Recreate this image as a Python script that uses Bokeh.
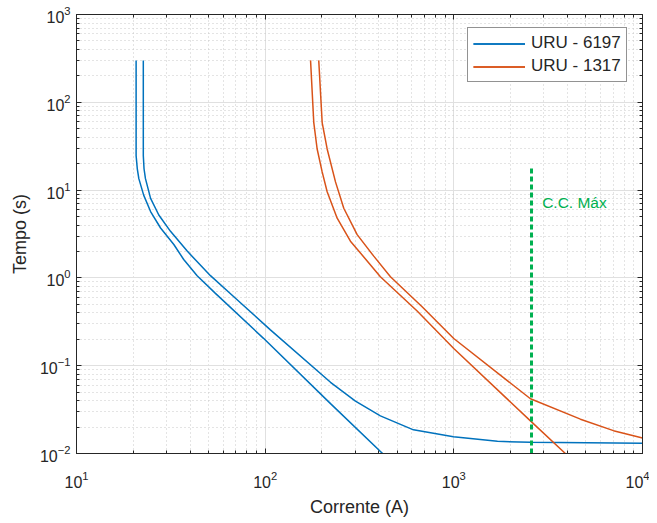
from bokeh.plotting import figure
from bokeh.models import LogAxis, Legend, LegendItem, Label, FixedTicker, CustomJSTickFormatter
from bokeh.embed import file_html
from bokeh.resources import INLINE

# ---- data ----
x_ticks = [10, 100, 1000, 10000]
y_ticks = [0.01, 0.1, 1, 10, 100, 1000]

uru6197_min_I = [20.7, 20.7, 21.0, 21.4, 22.7, 24.7, 27.9, 32.8, 37.0, 43.6, 54.5, 98.0, 222, 419]
uru6197_min_t = [300, 24.7, 17.5, 13.5, 8.77, 5.70, 3.70, 2.40, 1.62, 1.06, 0.667, 0.205, 0.037, 0.01]
uru6197_max_I = [22.6, 22.6, 22.8, 23.2, 24.7, 27.3, 31.5, 38.6, 51.3, 69.6, 106.6, 222, 301, 408, 611, 995, 1703, 2547, 10000]
uru6197_max_t = [300, 24.7, 17.5, 13.5, 8.04, 5.21, 3.39, 2.02, 1.06, 0.586, 0.256, 0.0647, 0.0395, 0.0268, 0.0186, 0.0155, 0.01375, 0.0134, 0.0131]
uru1317_min_I = [174, 181, 188.6, 200.5, 213.1, 240.8, 283.1, 347.2, 408, 639, 999, 2547, 3900]
uru1317_min_t = [300, 58.8, 29.4, 16.1, 9.57, 4.79, 2.62, 1.56, 1.03, 0.419, 0.157, 0.0235, 0.01]
uru1317_max_I = [192.3, 200.5, 213.1, 235.9, 261, 307.3, 376.3, 461.3, 679, 999, 2547, 4688, 7015, 10000]
uru1317_max_t = [300, 58.8, 29.4, 12.4, 6.21, 3.11, 1.77, 1.03, 0.470, 0.204, 0.042, 0.0246, 0.0182, 0.0150]

cc_max_I = [2580, 2580]
cc_max_t = [0.01, 18.5]
cc_label = "C.C. Máx"
cc_label_pos = (2938, 7.25)

series_names = ["URU - 6197", "URU - 1317"]
BLUE = "#0072BD"
ORANGE = "#D95319"
GREEN = "#00B050"
DARK = "#262626"
FONT = "Liberation Sans"

def minor_of(ticks):
    out = []
    for t in ticks[:-1]:
        for m in range(2, 10):
            out.append(t * m)
    return out

xt = FixedTicker(ticks=x_ticks, minor_ticks=minor_of(x_ticks))
yt = FixedTicker(ticks=y_ticks, minor_ticks=minor_of(y_ticks))

p = figure(width=649, height=519, x_axis_type="log", y_axis_type="log",
           x_range=(10, 10000), y_range=(0.01, 1000),
           output_backend="svg", toolbar_location=None,
           min_border_left=76, min_border_right=7, min_border_top=14, min_border_bottom=61)
p.title.visible = False
p.outline_line_color = DARK
p.outline_line_width = 1

for ax, tk in ((p.xaxis[0], xt), (p.yaxis[0], yt)):
    ax.ticker = tk
    ax.major_tick_in = 5
    ax.major_tick_out = 0
    ax.minor_tick_in = 3
    ax.minor_tick_out = 0
    ax.axis_line_color = DARK
    ax.major_tick_line_color = DARK
    ax.minor_tick_line_color = DARK
    ax.major_label_text_color = DARK
    ax.major_label_text_font = FONT
    ax.major_label_text_font_size = "16px"
    ax.axis_label_text_font = FONT
    ax.axis_label_text_font_size = "18px"
    ax.axis_label_text_font_style = "normal"
    ax.axis_label_text_color = DARK

p.xaxis.axis_label = "Corrente (A)"
p.yaxis.axis_label = "Tempo (s)"
p.xaxis.major_label_standoff = 17
p.yaxis.major_label_standoff = 6
p.xaxis.axis_label_standoff = 6
p.yaxis.axis_label_standoff = 7

for loc, tk in (("above", xt), ("right", yt)):
    ax = LogAxis(ticker=tk, formatter=CustomJSTickFormatter(code="return ''"))
    ax.major_tick_in = 5
    ax.major_tick_out = 0
    ax.minor_tick_in = 3
    ax.minor_tick_out = 0
    ax.axis_line_color = DARK
    ax.major_tick_line_color = DARK
    ax.minor_tick_line_color = DARK
    ax.major_label_standoff = 0
    ax.major_label_text_font_size = "1px"
    p.add_layout(ax, loc)

for g in (p.xgrid[0], p.ygrid[0]):
    g.grid_line_color = "#e0e0e0"
    g.grid_line_width = 1
    g.minor_grid_line_color = "#c8c8c8"
    g.minor_grid_line_dash = "1 3"
    g.minor_grid_line_width = 1

r1 = p.line(uru6197_min_I, uru6197_min_t, line_color=BLUE, line_width=1.5)
r2 = p.line(uru6197_max_I, uru6197_max_t, line_color=BLUE, line_width=1.5)
r3 = p.line(uru1317_min_I, uru1317_min_t, line_color=ORANGE, line_width=1.5)
r4 = p.line(uru1317_max_I, uru1317_max_t, line_color=ORANGE, line_width=1.5)

p.line(cc_max_I, cc_max_t, line_color=GREEN, line_width=3, line_dash="5 3")
p.add_layout(Label(x=cc_label_pos[0], y=cc_label_pos[1], text=cc_label,
                   text_font=FONT, text_font_size="15.5px", text_color=GREEN,
                   text_baseline="middle", text_align="left"))

legend = Legend(items=[LegendItem(label=series_names[0], renderers=[r1, r2]),
                       LegendItem(label=series_names[1], renderers=[r3, r4])],
                location=(391, 371))
legend.label_text_font = FONT
legend.label_text_font_size = "17px"
legend.label_text_color = DARK
legend.border_line_color = DARK
legend.border_line_width = 1
legend.background_fill_color = "white"
legend.background_fill_alpha = 1
legend.padding = 5
legend.margin = 0
legend.spacing = 3
legend.glyph_width = 52
legend.glyph_height = 17
legend.label_height = 17
legend.label_standoff = 6
legend.label_width = 60
p.add_layout(legend)

open("out.html", "w").write(file_html(p, INLINE))
